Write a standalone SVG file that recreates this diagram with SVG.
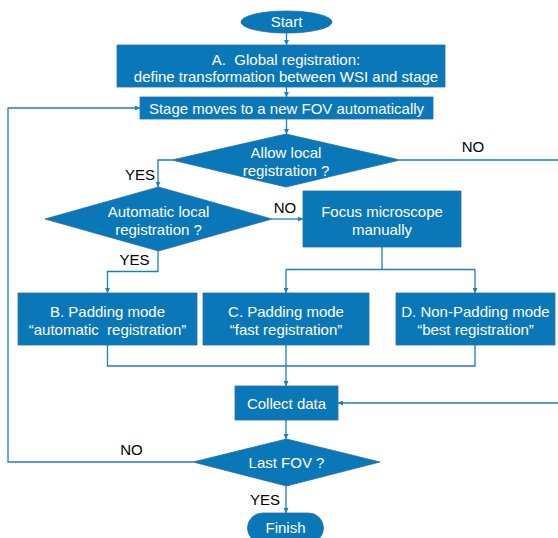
<svg xmlns="http://www.w3.org/2000/svg" width="558" height="538" viewBox="0 0 558 538">
<defs>
<style>
.n{fill:#0a78b8;stroke:#2a6fa3;stroke-width:0.8}
.t{font-family:"Liberation Sans",Arial,sans-serif;font-size:15px;fill:#ffffff;text-anchor:middle;white-space:pre}
.l{font-family:"Liberation Sans",Arial,sans-serif;font-size:15px;fill:#000000;text-anchor:middle}
.c{fill:none;stroke:#1a7fc1;stroke-width:1.3}
</style>
<marker id="ar" viewBox="0 0 8 8" refX="8" refY="4" markerWidth="5" markerHeight="5" orient="auto" markerUnits="userSpaceOnUse">
<path d="M0,0 L8,4 L0,8 z" fill="#1a7fc1"/>
</marker>
</defs>
<rect width="558" height="538" fill="#ffffff"/>
<g id="connectors">
<path class="c" d="M286.5,33 V45" marker-end="url(#ar)"/>
<path class="c" d="M286.5,87 V97" marker-end="url(#ar)"/>
<path class="c" d="M286.5,119 V134" marker-end="url(#ar)"/>
<path class="c" d="M172,160 H158 V187" marker-end="url(#ar)"/>
<path class="c" d="M400,160 H558"/>
<path class="c" d="M272,219 H303" marker-end="url(#ar)"/>
<path class="c" d="M158,251 V271.5 H107.5 V293" marker-end="url(#ar)"/>
<path class="c" d="M382,247 V269.5"/>
<path class="c" d="M286,269.5 H475"/>
<path class="c" d="M286,269.5 V293" marker-end="url(#ar)"/>
<path class="c" d="M475,269.5 V293" marker-end="url(#ar)"/>
<path class="c" d="M107.5,345 V366 H475 V345"/>
<path class="c" d="M286,345 V386" marker-end="url(#ar)"/>
<path class="c" d="M558,403 H338" marker-end="url(#ar)"/>
<path class="c" d="M286,420 V439" marker-end="url(#ar)"/>
<path class="c" d="M193,462 H8 V108 H140" marker-end="url(#ar)"/>
<path class="c" d="M286,486 V513" marker-end="url(#ar)"/>
</g>
<g id="start"><ellipse class="n" cx="286.5" cy="22" rx="45.5" ry="11"/><text class="t" x="286.5" y="27">Start</text></g>
<g id="global"><rect class="n" x="117" y="45" width="328" height="42"/><text class="t" x="286" y="65">A.  Global registration:</text><text class="t" x="286" y="82">define transformation between WSI and stage</text></g>
<g id="stage"><rect class="n" x="140" y="97" width="293" height="22"/><text class="t" x="286.5" y="113.5">Stage moves to a new FOV automatically</text></g>
<g id="allow"><polygon class="n" points="286,134 400,160 286,187 172,160"/><text class="t" x="286" y="158">Allow local</text><text class="t" x="286" y="176">registration ?</text></g>
<g id="auto"><polygon class="n" points="158.5,187 272,219 158.5,251 45,219"/><text class="t" x="158.5" y="217">Automatic local</text><text class="t" x="158.5" y="235">registration ?</text></g>
<g id="focus"><rect class="n" x="303" y="191" width="158" height="56"/><text class="t" x="382" y="217">Focus microscope</text><text class="t" x="382" y="235">manually</text></g>
<g id="b"><rect class="n" x="18" y="293" width="179" height="52"/><text class="t" x="107.5" y="317">B. Padding mode</text><text class="t" x="107.5" y="335">“automatic  registration”</text></g>
<g id="c"><rect class="n" x="203" y="293" width="166" height="52"/><text class="t" x="286" y="317">C. Padding mode</text><text class="t" x="286" y="335">“fast registration”</text></g>
<g id="d"><rect class="n" x="396" y="293" width="159" height="52"/><text class="t" x="475.5" y="317">D. Non-Padding mode</text><text class="t" x="475.5" y="335">“best registration”</text></g>
<g id="collect"><rect class="n" x="235" y="386" width="103" height="34"/><text class="t" x="286.5" y="408.5">Collect data</text></g>
<g id="last"><polygon class="n" points="286.5,439 380,462 286.5,486 193,462"/><text class="t" x="286.5" y="467.5">Last FOV ?</text></g>
<g id="finish"><rect class="n" x="247.5" y="513" width="76" height="30" rx="15" ry="15"/><text class="t" x="285.5" y="533">Finish</text></g>
<g id="labels">
<text class="l" x="473" y="152">NO</text>
<text class="l" x="140" y="180">YES</text>
<text class="l" x="285" y="213">NO</text>
<text class="l" x="134.5" y="265">YES</text>
<text class="l" x="131.5" y="455">NO</text>
<text class="l" x="265" y="505">YES</text>
</g>
</svg>
